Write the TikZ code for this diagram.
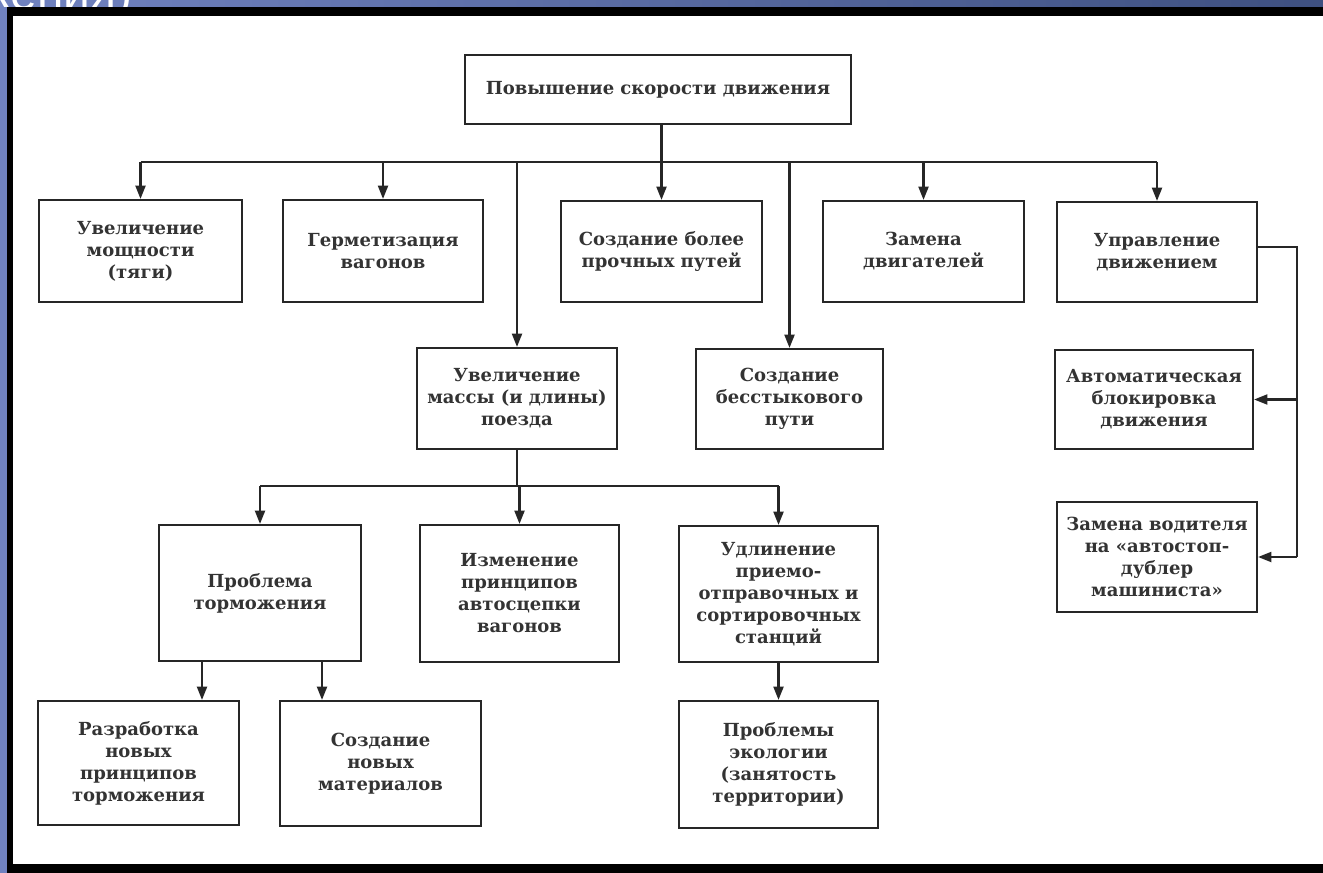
\documentclass[tikz,border=0pt]{standalone}
\usepackage{fontspec}
\setmainfont{DejaVu Serif}
\newfontfamily\titlefont{Liberation Sans}
\usetikzlibrary{arrows.meta,calc}
\tikzset{
  box/.style={draw=black!85, line width=1.6pt, fill=white, align=center, inner sep=2pt,
    font=\bfseries\fontsize{13.5pt}{16.5pt}\selectfont, text=black!80},
  conn/.style={draw=black!85, line width=1.6pt},
  arr/.style={conn, -{Triangle[length=10pt,width=7.5pt]}},
}
\begin{document}
\begin{tikzpicture}[x=0.75pt,y=-0.75pt]
% frame
\useasboundingbox (0,0) rectangle (1323,873);
\shade[left color={rgb,255:red,112;green,130;blue,192}, right color={rgb,255:red,62;green,80;blue,128}] (0,0) rectangle (1323,873);
\begin{scope}
\clip (0,0) rectangle (1323,7);
\node[anchor=base west, text=white, inner sep=0pt, font=\titlefont\fontsize{36pt}{40pt}\selectfont] (ttl) at (-22,10) {жения)};
\end{scope}
\fill[black] (7,7) rectangle (1323,873);
\fill[white] (13,16) rectangle (1323,864);

% nodes
\node[box, minimum width=289.5pt, minimum height=51.75pt] (top) at (658,89.5) {Повышение скорости движения};
\node[box, minimum width=152.25pt, minimum height=76.5pt] (mosh) at (140.5,251) {Увеличение\\мощности\\(тяги)};
\node[box, minimum width=150pt, minimum height=76.5pt] (germ) at (383,251) {Герметизация\\вагонов};
\node[box, minimum width=150.75pt, minimum height=75.75pt] (sozd) at (661.5,251.5) {Создание более\\прочных путей};
\node[box, minimum width=150.75pt, minimum height=75.75pt] (zamena) at (923.5,251.5) {Замена\\двигателей};
\node[box, minimum width=150pt, minimum height=75pt] (uprav) at (1157,252) {Управление\\движением};
\node[box, minimum width=150pt, minimum height=75.75pt] (massa) at (517,398.5) {Увеличение\\массы (и длины)\\поезда};
\node[box, minimum width=140.25pt, minimum height=75pt] (besst) at (789.5,399) {Создание\\бесстыкового\\пути};
\node[box, minimum width=148.5pt, minimum height=74.25pt] (avto) at (1154,399.5) {Автоматическая\\блокировка\\движения};
\node[box, minimum width=150pt, minimum height=82.5pt] (zamvod) at (1157,557) {Замена водителя\\на «автостоп-\\дублер\\машиниста»};
\node[box, minimum width=151.5pt, minimum height=102pt] (tormoz) at (260,593) {Проблема\\торможения};
\node[box, minimum width=149.25pt, minimum height=102.75pt] (izmen) at (519.5,593.5) {Изменение\\принципов\\автосцепки\\вагонов};
\node[box, minimum width=149.25pt, minimum height=102pt] (udlin) at (778.5,594) {Удлинение\\приемо-\\отправочных и\\сортировочных\\станций};
\node[box, minimum width=150.75pt, minimum height=93pt] (razrab) at (138.5,763) {Разработка\\новых\\принципов\\торможения};
\node[box, minimum width=150.75pt, minimum height=93.75pt] (mater) at (380.5,763.5) {Создание\\новых\\материалов};
\node[box, minimum width=149.25pt, minimum height=95.25pt] (ekol) at (778.5,764.5) {Проблемы\\экологии\\(занятость\\территории)};

% level 1 bus
\coordinate (bus) at (0,162);
\draw[conn] (bus -| mosh.north) -- (bus -| uprav.north);
\draw[arr] (top.south -| sozd.north) -- (sozd.north);
\draw[arr] (bus -| mosh.north) -- (mosh.north);
\draw[arr] (bus -| germ.north) -- (germ.north);
\draw[arr] (bus -| zamena.north) -- (zamena.north);
\draw[arr] (bus -| uprav.north) -- (uprav.north);
\draw[arr] (bus -| massa.north) -- (massa.north);
\draw[arr] (bus -| besst.north) -- (besst.north);

% level 2 bus
\coordinate (bus2) at (0,486);
\draw[conn] (massa.south) -- (bus2 -| massa.south);
\draw[conn] (bus2 -| tormoz.north) -- (bus2 -| udlin.north);
\draw[arr] (bus2 -| tormoz.north) -- (tormoz.north);
\draw[arr] (bus2 -| izmen.north) -- (izmen.north);
\draw[arr] (bus2 -| udlin.north) -- (udlin.north);

% braking
\coordinate (t1) at ($(tormoz.south)+(-58,0)$);
\coordinate (t2) at ($(tormoz.south)+(62,0)$);
\draw[arr] (t1) -- (t1 |- razrab.north);
\draw[arr] (t2) -- (t2 |- mater.north);
\draw[arr] (udlin.south) -- (ekol.north);

% control branch
\coordinate (u1) at ($(uprav.north east)+(0,46)$);
\coordinate (rail) at (1297,0);
\draw[conn] (u1) -- (u1 -| rail) -- (rail |- zamvod.east);
\draw[arr] (rail |- avto.east) -- (avto.east);
\draw[arr] (rail |- zamvod.east) -- (zamvod.east);
\end{tikzpicture}
\end{document}
